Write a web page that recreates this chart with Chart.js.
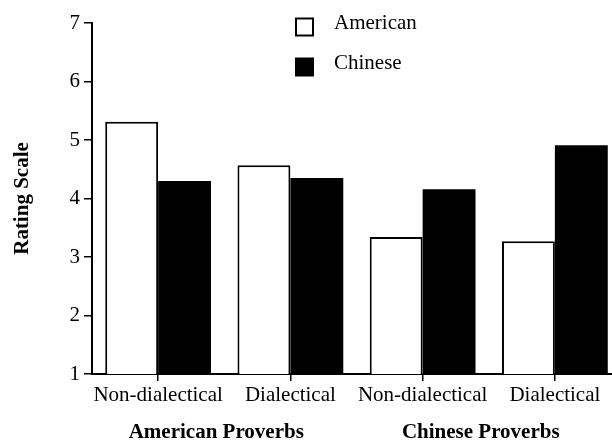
<!DOCTYPE html>
<html>
<head>
<meta charset="utf-8">
<script src="https://cdn.jsdelivr.net/npm/chart.js@4/dist/chart.umd.min.js"></script>
<style>
  html, body { margin: 0; padding: 0; background: #fff; overflow: hidden; }
  #wrap { width: 612px; height: 442px; position: relative; overflow: hidden; }
</style>
</head>
<body>
<div id="wrap"><canvas id="c" width="622" height="442"></canvas></div>
<script>
// ---- data ----
const categories = ["Non-dialectical", "Dialectical", "Non-dialectical", "Dialectical"];
const groupLabels = ["American Proverbs", "Chinese Proverbs"];
const seriesNames = ["American", "Chinese"];
const americanValues = [5.31, 4.57, 3.34, 3.27];
const chineseValues = [4.30, 4.35, 4.16, 4.91];
const yTicks = [1, 2, 3, 4, 5, 6, 7];
const yTitle = "Rating Scale";

const FONT = "'Liberation Serif', 'Times New Roman', serif";

const legendPlugin = {
  id: 'customLegend',
  afterDraw(chart) {
    const ctx = chart.ctx;
    ctx.save();
    const items = chart.data.datasets;
    const boxX = 296, boxSize = 17, textX = 335;
    const rows = [27, 67];
    items.forEach((ds, i) => {
      const cy = rows[i];
      ctx.fillStyle = ds.backgroundColor;
      ctx.fillRect(boxX, cy - boxSize / 2, boxSize, boxSize);
      ctx.lineWidth = 2;
      ctx.strokeStyle = '#000';
      ctx.strokeRect(boxX, cy - boxSize / 2, boxSize, boxSize);
      ctx.fillStyle = '#000';
      ctx.font = "21px " + FONT;
      ctx.textBaseline = 'middle';
      ctx.textAlign = 'left';
      ctx.fillText(ds.label, textX - 1, cy - 4);
    });
    ctx.restore();
  }
};

const groupPlugin = {
  id: 'groupLabels',
  afterDraw(chart) {
    const x = chart.scales.x;
    const ctx = chart.ctx;
    ctx.save();
    ctx.fillStyle = '#000';
    ctx.font = "bold 21px " + FONT;
    ctx.textAlign = 'center';
    ctx.textBaseline = 'alphabetic';
    groupLabels.forEach((g, i) => {
      const a = x.getPixelForValue(i * 2);
      const b = x.getPixelForValue(i * 2 + 1);
      ctx.fillText(g, (a + b) / 2 - 8, 438);
    });
    ctx.restore();
  }
};

new Chart(document.getElementById('c'), {
  type: 'bar',
  data: {
    labels: categories,
    datasets: [
      { label: seriesNames[0], data: americanValues, backgroundColor: '#ffffff', borderColor: '#000000', borderWidth: 2 },
      { label: seriesNames[1], data: chineseValues, backgroundColor: '#000000', borderColor: '#000000', borderWidth: 0 }
    ]
  },
  options: {
    responsive: false,
    animation: false,
    devicePixelRatio: 1,
    layout: { padding: { left: 0, right: 1, top: 23, bottom: 0 } },
    datasets: { bar: { categoryPercentage: 0.8, barPercentage: 1.0 } },
    plugins: { legend: { display: false }, tooltip: { enabled: false } },
    scales: {
      x: {
        offset: true,
        afterFit(s) { s.height = 68; },
        grid: { display: true, offset: false, drawOnChartArea: false, drawTicks: true, tickLength: 7, color: '#000', lineWidth: 1.5 },
        border: { display: true, color: '#000', width: 2 },
        ticks: { color: '#000', font: { family: FONT, size: 21 }, padding: 2, maxRotation: 0, autoSkip: false }
      },
      y: {
        min: 1, max: 7,
        afterFit(s) { s.width = 92; },
        afterBuildTicks(s) { s.ticks = yTicks.map(v => ({ value: v })); },
        grid: { display: true, drawOnChartArea: false, drawTicks: true, tickLength: 8, color: '#000', lineWidth: 1.5 },
        border: { display: true, color: '#000', width: 2 },
        ticks: { color: '#000', font: { family: FONT, size: 21 }, padding: 4 },
        title: { display: true, text: yTitle, color: '#000', font: { family: FONT, size: 21, weight: 'bold' }, padding: { top: 10, bottom: 0 } }
      }
    }
  },
  plugins: [legendPlugin, groupPlugin]
});
</script>
</body>
</html>
